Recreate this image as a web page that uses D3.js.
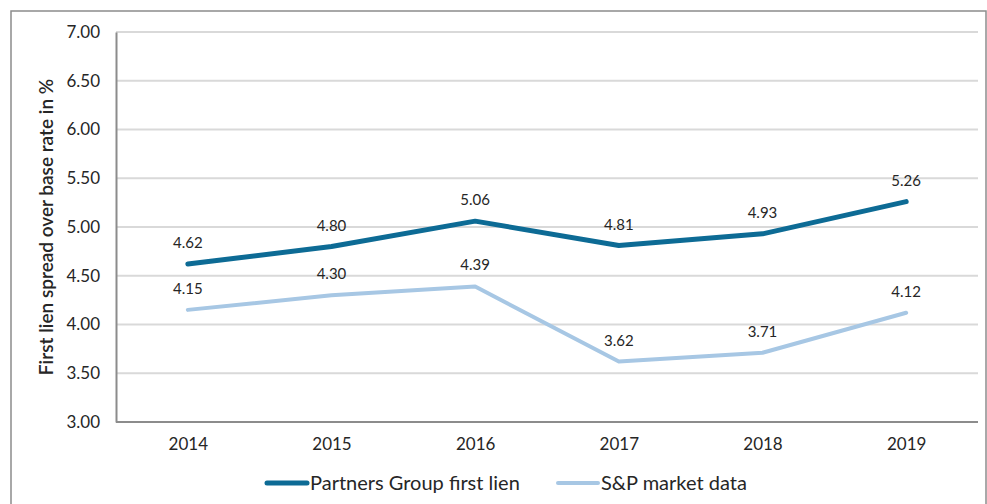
<!DOCTYPE html>
<html>
<head>
    <title>First lien spread</title>
    <script src="https://cdn.jsdelivr.net/npm/d3@7"></script>
    <style>
        body { margin: 0; background: #fff; }
        text { font-family: Lato, "Open Sans", sans-serif; fill: #262626; }
    </style>
</head>
<body>
    <div id="chart"></div>
    <script type="text/javascript">
        var years = ["2014", "2015", "2016", "2017", "2018", "2019"];
        var partners = [4.62, 4.80, 5.06, 4.81, 4.93, 5.26];
        var spMarket = [4.15, 4.30, 4.39, 3.62, 3.71, 4.12];
        var yTicks = [3.0, 3.5, 4.0, 4.5, 5.0, 5.5, 6.0, 6.5, 7.0];

        var series = [
            { name: "Partners Group first lien", values: partners, color: "#0d6b95", width: 5 },
            { name: "S&P market data", values: spMarket, color: "#a7c7e4", width: 4 }
        ];

        var width = 987, height = 504;
        var plotLeft = 116, plotRight = 978, plotTop = 32, plotBottom = 422;

        var svg = d3.select("#chart").append("svg")
            .attr("width", width)
            .attr("height", height);

        // outer frame
        svg.append("rect")
            .attr("x", 11).attr("y", 11)
            .attr("width", 975).attr("height", 520)
            .attr("fill", "none")
            .attr("stroke", "#8c8c8c")
            .attr("stroke-width", 1.5);

        var x = d3.scalePoint()
            .domain(years)
            .range([plotLeft, plotRight])
            .padding(0.5);

        var y = d3.scaleLinear()
            .domain([3, 7])
            .range([plotBottom, plotTop]);

        // gridlines
        svg.append("g").selectAll("line")
            .data(yTicks.slice(1))
            .enter().append("line")
                .attr("x1", plotLeft).attr("x2", plotRight)
                .attr("y1", function(d) { return y(d); })
                .attr("y2", function(d) { return y(d); })
                .attr("stroke", "#d9d9d9")
                .attr("stroke-width", 2);

        // y axis
        var yAxis = svg.append("g")
            .attr("transform", "translate(" + plotLeft + ",0)")
            .call(d3.axisLeft(y).tickValues(yTicks).tickFormat(d3.format(".2f")).tickSize(0).tickPadding(16));
        yAxis.select(".domain").attr("stroke", "#8c8c8c").attr("stroke-width", 2);
        yAxis.selectAll("text").style("font-size", "17px").attr("fill", "#262626");

        // x axis
        var xAxis = svg.append("g")
            .attr("transform", "translate(0," + plotBottom + ")")
            .call(d3.axisBottom(x).tickSize(0).tickPadding(16));
        xAxis.select(".domain").attr("d", "M" + plotLeft + ",0H" + plotRight).attr("stroke", "#8c8c8c").attr("stroke-width", 2);
        xAxis.selectAll("text").style("font-size", "17px").attr("fill", "#262626");

        // y axis title
        svg.append("text")
            .attr("transform", "translate(53," + ((plotTop + plotBottom) / 2) + ") rotate(-90)")
            .attr("text-anchor", "middle")
            .style("font-size", "19px")
            .style("font-weight", "600")
            .text("First lien spread over base rate in %");

        var line = d3.line()
            .x(function(d, i) { return x(years[i]); })
            .y(function(d) { return y(d); });

        series.forEach(function(s) {
            svg.append("path")
                .datum(s.values)
                .attr("d", line)
                .attr("fill", "none")
                .attr("stroke", s.color)
                .attr("stroke-width", s.width)
                .attr("stroke-linecap", "round")
                .attr("stroke-linejoin", "round");

            svg.append("g").selectAll("text")
                .data(s.values)
                .enter().append("text")
                    .attr("x", function(d, i) { return x(years[i]); })
                    .attr("y", function(d) { return y(d) - 16; })
                    .attr("text-anchor", "middle")
                    .style("font-size", "15px")
                    .text(function(d) { return d3.format(".2f")(d); });
        });

        // legend
        var legendX = [267, 558];
        series.forEach(function(s, i) {
            var g = svg.append("g").attr("transform", "translate(" + legendX[i] + ",483)");
            g.append("line")
                .attr("x1", 0).attr("x2", 40)
                .attr("stroke", s.color)
                .attr("stroke-width", s.width)
                .attr("stroke-linecap", "round");
            g.append("text")
                .attr("x", 43).attr("y", 7)
                .style("font-size", "20px")
                .text(s.name);
        });
    </script>
</body>
</html>
